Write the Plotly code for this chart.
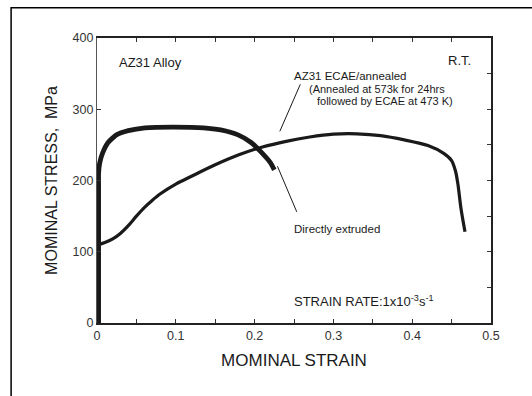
import plotly.graph_objects as go

# Directly extruded curve
ext_strain = [0.002, 0.002, 0.002, 0.0035, 0.0073, 0.0138, 0.0246, 0.0397, 0.061, 0.097, 0.135, 0.157, 0.179, 0.196, 0.209, 0.220, 0.225]
ext_stress = [0, 192, 210, 225, 239, 253, 264, 270, 274, 275, 274, 271, 264, 253, 239, 225, 215]

# ECAE / annealed curve
ecae_strain = [0.002, 0.010, 0.020, 0.030, 0.040, 0.050, 0.060, 0.070, 0.080, 0.100, 0.120, 0.150, 0.180, 0.210, 0.240, 0.270, 0.300, 0.330, 0.360, 0.390, 0.420, 0.440, 0.450, 0.455, 0.458, 0.462, 0.467]
ecae_stress = [110, 113, 118, 126, 137, 150, 162, 172, 181, 195, 206, 222, 236, 247, 255, 261, 265, 265.5, 263, 257, 249, 238, 228, 213, 195, 160, 128]

# Leader lines
lead1_x = [0.232, 0.258]
lead1_y = [269, 335]
lead2_x = [0.229, 0.2535]
lead2_y = [220, 156]

x_ticks = [0, 0.1, 0.2, 0.3, 0.4, 0.5]
x_labels = ["0", "0.1", "0.2", "0.3", "0.4", "0.5"]
x_minor_step = 0.05
y_ticks = [0, 100, 200, 300, 400]
y_right_ticks = [50, 100, 150, 200, 250, 300, 350]

FONT = "Liberation Sans, Arial, sans-serif"
INK = "#1a1a1a"

fig = go.Figure()
fig.add_trace(go.Scatter(x=ecae_strain, y=ecae_stress, mode="lines",
                         line=dict(color=INK, width=3.2, shape="spline", smoothing=0.8),
                         showlegend=False, hoverinfo="skip"))
fig.add_trace(go.Scatter(x=ext_strain, y=ext_stress, mode="lines",
                         line=dict(color=INK, width=4.8, shape="spline", smoothing=0.5),
                         showlegend=False, hoverinfo="skip"))
fig.add_trace(go.Scatter(x=lead1_x, y=lead1_y, mode="lines",
                         line=dict(color=INK, width=1), showlegend=False, hoverinfo="skip"))
fig.add_trace(go.Scatter(x=lead2_x, y=lead2_y, mode="lines",
                         line=dict(color=INK, width=1), showlegend=False, hoverinfo="skip"))
# invisible trace to activate the right-hand axis
fig.add_trace(go.Scatter(x=[0], y=[0], yaxis="y2", mode="markers",
                         marker=dict(opacity=0), showlegend=False, hoverinfo="skip"))

tickfont = dict(family=FONT, size=12.5, color="#333")
fig.update_layout(
    width=532, height=396,
    margin=dict(l=97, r=41, t=38, b=73),
    paper_bgcolor="white", plot_bgcolor="white",
    font=dict(family=FONT, color=INK),
    xaxis=dict(range=[0, 0.5], tickvals=x_ticks, ticktext=x_labels, ticks="inside",
               ticklen=4, tickcolor="#333", showgrid=False, zeroline=False, mirror="allticks",
               minor=dict(dtick=x_minor_step, tick0=0, ticks="inside", ticklen=4, tickcolor="#333", showgrid=False),
               showline=True, linecolor="#222", linewidth=1.5, tickfont=tickfont,
               title=dict(text="MOMINAL STRAIN", font=dict(family=FONT, size=17, color=INK), standoff=12)),
    yaxis=dict(range=[0, 400], tickvals=y_ticks, ticks="inside", ticklen=4,
               tickcolor="#333", showgrid=False, zeroline=False, showline=True,
               linecolor="#555", linewidth=1.2, tickfont=tickfont,
               title=dict(text="MOMINAL STRESS,  MPa", font=dict(family=FONT, size=16, color=INK), standoff=10)),
    yaxis2=dict(range=[0, 400], overlaying="y", side="right", tickvals=y_right_ticks,
                showticklabels=False, ticks="inside", ticklen=4, tickcolor="#333",
                showgrid=False, zeroline=False, showline=True, linecolor="#222", linewidth=1.5),
)

ann_font = dict(family=FONT, size=11.5, color=INK)
fig.add_annotation(x=0.025, y=366, text="AZ31 Alloy", showarrow=False, xanchor="left",
                   font=dict(family=FONT, size=13, color=INK))
fig.add_annotation(x=0.477, y=368, text="R.T.", showarrow=False, xanchor="right",
                   font=dict(family=FONT, size=13, color=INK))
fig.add_annotation(x=0.2475, y=347, text="AZ31 ECAE/annealed", showarrow=False, xanchor="left",
                   font=ann_font)
fig.add_annotation(x=0.266, y=329, text="(Annealed at 573k for 24hrs", showarrow=False,
                   xanchor="left", font=dict(family=FONT, size=11, color=INK))
fig.add_annotation(x=0.277, y=311, text="followed by ECAE at 473 K)", showarrow=False,
                   xanchor="left", font=dict(family=FONT, size=11, color=INK))
fig.add_annotation(x=0.247, y=132, text="Directly extruded", showarrow=False, xanchor="left",
                   font=ann_font)
fig.add_annotation(x=0.247, y=31, text="STRAIN RATE:1x10<sup>-3</sup>s<sup>-1</sup>",
                   showarrow=False, xanchor="left", font=dict(family=FONT, size=13, color=INK))

# outer frame of the original figure
fig.add_shape(type="rect", xref="paper", yref="paper", x0=-0.218, x1=1.2, y0=-0.3, y1=1.106,
              line=dict(color="black", width=1.5), fillcolor="rgba(0,0,0,0)", layer="below")

fig.write_html("out.html")
